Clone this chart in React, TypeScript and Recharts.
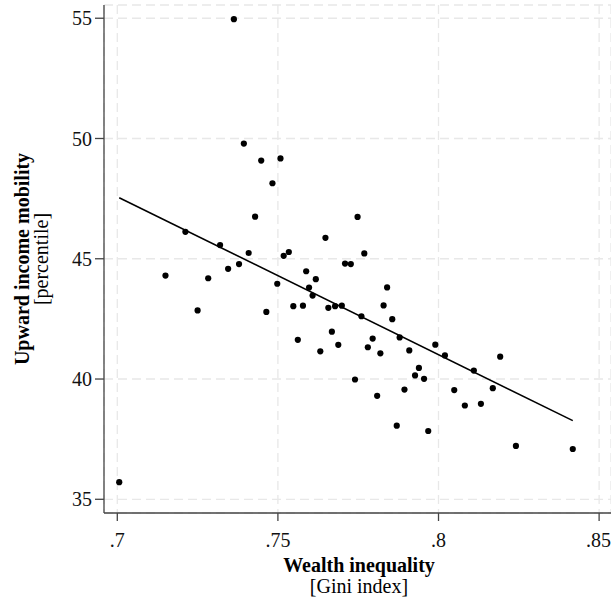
import React from 'react';
import {
  ComposedChart,
  Scatter,
  Line,
  XAxis,
  YAxis,
  CartesianGrid,
  Label,
} from 'recharts';

// wealth inequality (gini) per region
const giniValues = [
  0.7006, 0.715, 0.7212, 0.725, 0.7283, 0.732, 0.7345, 0.7363, 0.7379, 0.7394,
  0.7409, 0.7429, 0.7448, 0.7464, 0.7483, 0.7498, 0.7508, 0.7518, 0.7534, 0.7548,
  0.7562, 0.7578, 0.7588, 0.7597, 0.7608, 0.7618, 0.7632, 0.7648, 0.7657, 0.7668,
  0.7678, 0.7688, 0.7699, 0.7709, 0.7727, 0.774, 0.7748, 0.776, 0.7769, 0.778,
  0.7795, 0.7809, 0.7819, 0.7829, 0.784, 0.7856, 0.787, 0.7879, 0.7894, 0.7909,
  0.7927, 0.7939, 0.7955, 0.7968, 0.799, 0.802, 0.8049, 0.8082, 0.811, 0.8132,
  0.8169, 0.8192, 0.8241, 0.8418,
];

// upward income mobility (percentile)
const mobilityValues = [
  35.71, 44.3, 46.12, 42.85, 44.19, 45.57, 44.58, 54.96, 44.78, 49.79,
  45.24, 46.75, 49.08, 42.79, 48.14, 43.96, 49.17, 45.12, 45.28, 43.03,
  41.63, 43.05, 44.48, 43.8, 43.47, 44.15, 41.15, 45.87, 42.96, 41.97,
  43.03, 41.42, 43.05, 44.8, 44.78, 39.98, 46.74, 42.61, 45.22, 41.32,
  41.68, 39.3, 41.07, 43.06, 43.81, 42.49, 38.06, 41.73, 39.56, 41.19,
  40.15, 40.46, 40.01, 37.84, 41.43, 40.98, 39.54, 38.9, 40.35, 38.97,
  39.62, 40.93, 37.22, 37.09,
];

// fitted line end points
const fitX = [0.7006, 0.8418];
const fitY = [47.54, 38.27];

const xTicks = [0.7, 0.75, 0.8, 0.85];
const yTicks = [35, 40, 45, 50, 55];

const points = giniValues.map((x, i) => ({ x, y: mobilityValues[i] }));
const fitData = fitX.map((x, i) => ({ x, y: fitY[i] }));

const FONT = '"Liberation Serif", "DejaVu Serif", serif';
const axisColor = '#444';

const Dot = (props: any) => (
  <circle cx={props.cx} cy={props.cy} r={3.1} fill="#000" />
);

const App: React.FC = () => {
  return (
    <div style={{ position: 'absolute', top: 0, left: 0, background: '#fff' }}>
      <ComposedChart
        width={611}
        height={602}
        margin={{ top: 5, right: 0, left: 0, bottom: 0 }}
        style={{ fontFamily: FONT }}
      >
        <CartesianGrid
          stroke="#e8e8e8"
          strokeWidth={1.3}
          strokeDasharray="9 5"
        />
        <XAxis
          type="number"
          dataKey="x"
          domain={[0.69586, 0.8537]}
          ticks={xTicks}
          allowDataOverflow
          height={89}
          tickSize={8}
          tickMargin={12}
          stroke={axisColor}
          strokeWidth={1.3}
          tick={{ fontSize: 20, fill: '#111', fontFamily: FONT }}
          tickFormatter={(v: number) => String(v).replace(/^0/, '')}
        >
          <Label
            content={() => (
              <g fontFamily={FONT} fill="#000" textAnchor="middle">
                <text x={359} y={572} fontSize={20} fontWeight="bold">
                  Wealth inequality
                </text>
                <text x={359} y={593} fontSize={20}>
                  [Gini index]
                </text>
              </g>
            )}
          />
        </XAxis>
        <YAxis
          type="number"
          dataKey="y"
          domain={[34.43, 55.55]}
          ticks={yTicks}
          allowDataOverflow
          width={104}
          tickSize={9}
          tickMargin={3}
          stroke={axisColor}
          strokeWidth={1.3}
          tick={{ fontSize: 20, fill: '#111', fontFamily: FONT }}
        >
          <Label
            content={() => (
              <g fontFamily={FONT} fill="#000" textAnchor="middle">
                <text
                  x={29}
                  y={259}
                  fontSize={20}
                  fontWeight="bold"
                  transform="rotate(-90 29 259)"
                >
                  Upward income mobility
                </text>
                <text
                  x={48}
                  y={259}
                  fontSize={20}
                  transform="rotate(-90 48 259)"
                >
                  [percentile]
                </text>
              </g>
            )}
          />
        </YAxis>
        <Scatter
          data={points}
          dataKey="y"
          shape={Dot}
          isAnimationActive={false}
        />
        <Line
          data={fitData}
          dataKey="y"
          type="linear"
          dot={false}
          activeDot={false}
          stroke="#000"
          strokeWidth={1.6}
          isAnimationActive={false}
        />
      </ComposedChart>
    </div>
  );
};

export default App;
